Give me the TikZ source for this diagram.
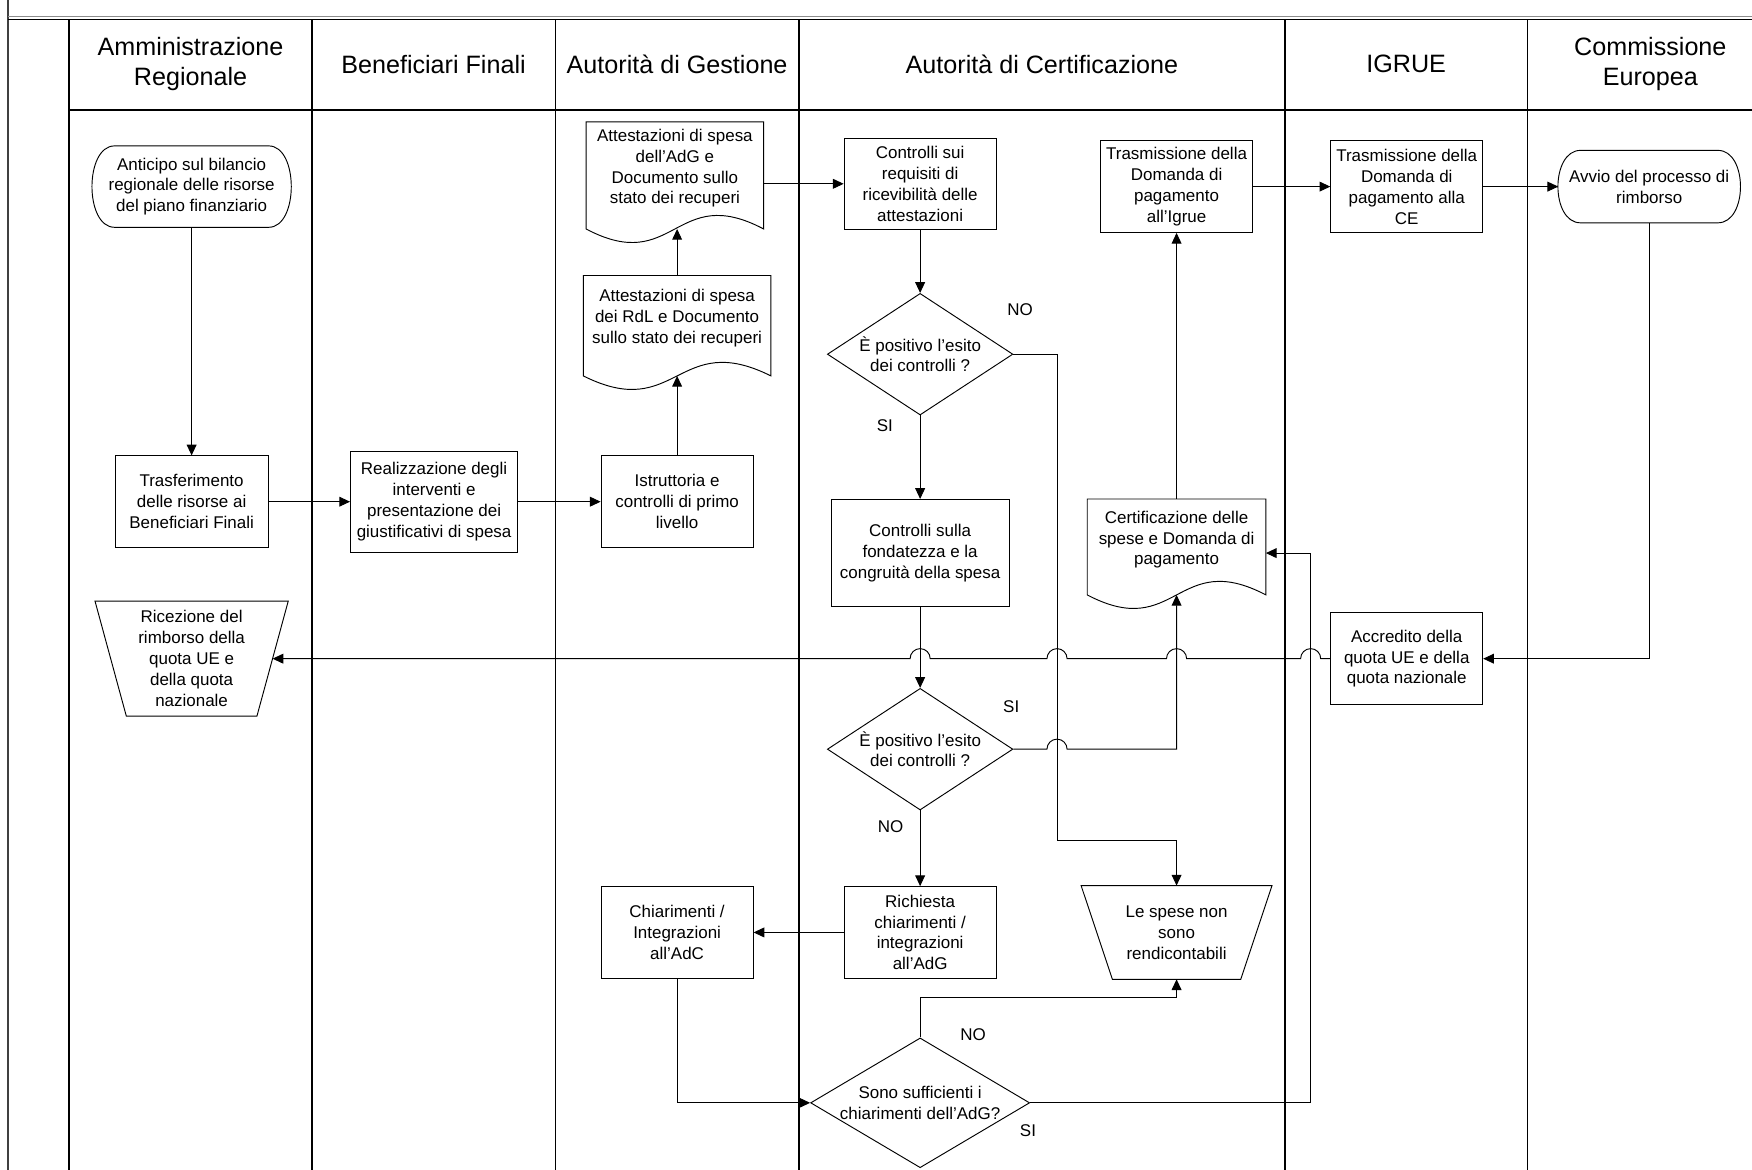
\documentclass[tikz,border=0pt]{standalone}
\usepackage{fontspec}
\setmainfont{Liberation Sans}
\usetikzlibrary{arrows.meta,calc,shapes.geometric}

% outlines drawn round nodes placed with draw=none
\newcommand\docout[1]{%
  \draw (#1.north west) -- (#1.north east) -- ($(#1.south east)+(0,-13)$)
    .. controls ($(#1.south)+(0,29)$) and ($(#1.south)+(0,-55)$) .. ($(#1.south west)+(0,-13)$) -- cycle;
  \coordinate (#1-w) at ($(#1.south)+(0,-13)$);}
\newcommand\trapout[1]{%
  \draw ($(#1.north west)+(-14,0)$) -- ($(#1.north east)+(14,0)$) -- ($(#1.south east)+(-14,0)$) -- ($(#1.south west)+(14,0)$) -- cycle;}
\newcommand\termout[1]{%
  \draw ($(#1.north west)+(20,0)$) -- ($(#1.north east)+(-20,0)$)
    .. controls ($(#1.north east)+(7,0)$) and ($(#1.south east)+(7,0)$) .. ($(#1.south east)+(-20,0)$)
    -- ($(#1.south west)+(20,0)$)
    .. controls ($(#1.south west)+(-7,0)$) and ($(#1.north west)+(-7,0)$) .. ($(#1.north west)+(20,0)$) -- cycle;}

\begin{document}
\begin{tikzpicture}[x=0.025cm, y=0.025cm, >={Triangle[length=2.4mm,width=2.2mm]}, line width=0.6pt,
    every node/.style={font=\fontsize{10.8}{13.3}\selectfont, align=center, inner sep=2pt},
    box/.style={draw, minimum width=3.4cm, minimum height=2.05cm},
    decide/.style={draw, diamond, aspect=1.5, inner sep=-2pt, minimum width=4.15cm, minimum height=2.72cm},
    lane/.style={line width=1pt},
    head/.style={font=\fontsize{16}{19.2}\selectfont}]
  \useasboundingbox (0,0) rectangle (1568,-1047);
  % cornice e corsie
  \draw[line width=1.2pt, black!75] (7.5,0) -- (7.5,-1047);
  \draw[line width=0.8pt, black!45] (7.5,-15) -- (1568,-15);
  \draw[line width=0.9pt] (7.5,-17.5) -- (1568,-17.5);
  \draw[lane] (62,-17.5) -- (62,-1047);
  \draw[lane] (62,-98.5) -- (1568,-98.5);
  \foreach \x in {279,497,715,1150,1367} \draw[lane] (\x,-17.5) -- (\x,-1047);

  \node[head] (hreg) at (170.5,-57.5) {Amministrazione\\Regionale};
  \node[head] (hben) at (388,-57.5) {Beneficiari Finali};
  \node[head] (hadg) at (606,-57.5) {Autorità di Gestione};
  \node[head] (hadc) at (932.5,-57.5) {Autorità di Certificazione};
  \node[head] (higr) at (1258.5,-57.5) {IGRUE};
  \node[head] (hce) at (1477,-57.5) {Commissione\\Europea};

  % Amministrazione Regionale
  \node[minimum width=4.425cm, minimum height=1.8cm] (ant) at (171.5,-167) {Anticipo sul bilancio\\regionale delle risorse\\del piano finanziario};
  \termout{ant}
  \node[box, minimum width=3.425cm] (tra) at (171.5,-449) {Trasferimento\\delle risorse ai\\Beneficiari Finali};
  \node[minimum width=3.6cm, minimum height=2.55cm, inner sep=1pt] (ric) at (171.5,-589.5) {Ricezione del\\rimborso della\\quota UE e\\della quota\\nazionale};
  \trapout{ric}

  % Beneficiari Finali, AdG
  \node[box, minimum width=3.74cm, minimum height=2.25cm] (rea) at (388.5,-449) {Realizzazione degli\\interventi e\\presentazione dei\\giustificativi di spesa};
  \node[box] (ist) at (606,-449) {Istruttoria e\\controlli di primo\\livello};
  \node[minimum width=4.175cm, minimum height=1.9cm] (rdl) at (606,-285) {Attestazioni di spesa\\dei RdL e Documento\\sullo stato dei recuperi};
  \docout{rdl}
  \node[minimum width=3.95cm, minimum height=2.05cm] (adg) at (604,-150.5) {Attestazioni di spesa\\dell’AdG e\\Documento sullo\\stato dei recuperi};
  \docout{adg}
  \node[box] (chi) at (606,-834.5) {Chiarimenti /\\Integrazioni\\all’AdC};

  % AdC
  \node[box] (req) at (823.5,-164.5) {Controlli sui\\requisiti di\\ricevibilità delle\\attestazioni};
  \node[decide] (d1) at (823.5,-317) {È positivo l’esito\\dei controlli ?};
  \node[box, minimum width=3.975cm, minimum height=2.4cm] (fon) at (823.5,-495) {Controlli sulla\\fondatezza e la\\congruità della spesa};
  \node[decide] (d2) at (823.5,-670.5) {È positivo l’esito\\dei controlli ?};
  \node[box] (rch) at (823.5,-834.5) {Richiesta\\chiarimenti /\\integrazioni\\all’AdG};
  \node[decide, minimum width=4.9cm, minimum height=2.7cm] (d3) at (823.5,-987) {Sono sufficienti i\\chiarimenti dell’AdG?};
  \node[box] (tig) at (1053,-167) {Trasmissione della\\Domanda di\\pagamento\\all’Igrue};
  \node[minimum width=3.975cm, minimum height=1.8cm] (cert) at (1053,-483) {Certificazione delle\\spese e Domanda di\\pagamento};
  \docout{cert}
  \node[minimum width=3.55cm, minimum height=2.075cm] (spese) at (1053,-834.5) {Le spese non\\sono\\rendicontabili};
  \trapout{spese}

  % IGRUE, CE
  \node[box] (tce) at (1259,-167) {Trasmissione della\\Domanda di\\pagamento alla\\CE};
  \node[box] (accr) at (1259,-589.5) {Accredito della\\quota UE e della\\quota nazionale};
  \node[minimum width=4.05cm, minimum height=1.6cm] (avv) at (1476,-167) {Avvio del processo di\\rimborso};
  \termout{avv}

  \node (no1) at (913,-277) {NO};
  \node (si1) at (792,-381) {SI};
  \node (si2) at (905,-632) {SI};
  \node (no2) at (797,-740) {NO};
  \node (no3) at (871,-926) {NO};
  \node (si3) at (920,-1012) {SI};

  % flussi
  \draw[->] (ant) -- (tra);
  \draw[->] (tra) -- (rea);
  \draw[->] (rea) -- (ist);
  \draw[->] (ist) -- (rdl-w);
  \draw[->] (rdl.north) -- (rdl.north |- adg-w);
  \draw[->] (adg.east |- req) -- (req);
  \draw[->] (req) -- (d1);
  \draw[->] (d1) -- (fon);
  \draw[->] (fon) -- (d2);
  \draw[->] (d1.east) -| (946,-752) -| (spese.north);
  \draw[->] (d2.east) -- (937,-670.5) arc[start angle=180, end angle=0, radius=9] -| (cert-w);
  \draw[->] (d2) -- (rch);
  \draw[->] (rch) -- (chi);
  \draw[->] (chi) |- (d3);
  \draw[->] (d3.north) -- ++(0,36) -| (spese.south);
  \draw[->] (d3.east) -| (1173,-495) -- ($(cert.east)+(0,-12)$);
  \draw[->] (cert) -- (tig);
  \draw[->] (tig) -- (tce);
  \draw[->] (tce) -- (avv);
  \draw[->] (avv) |- (accr);
  \draw[<-] (ric.east) -- (814.5,-589.5) arc[start angle=180, end angle=0, radius=9]
    -- (937,-589.5) arc[start angle=180, end angle=0, radius=9]
    -- (1044,-589.5) arc[start angle=180, end angle=0, radius=9]
    -- (1164,-589.5) arc[start angle=180, end angle=0, radius=9] -- (accr.west);
\end{tikzpicture}
\end{document}
